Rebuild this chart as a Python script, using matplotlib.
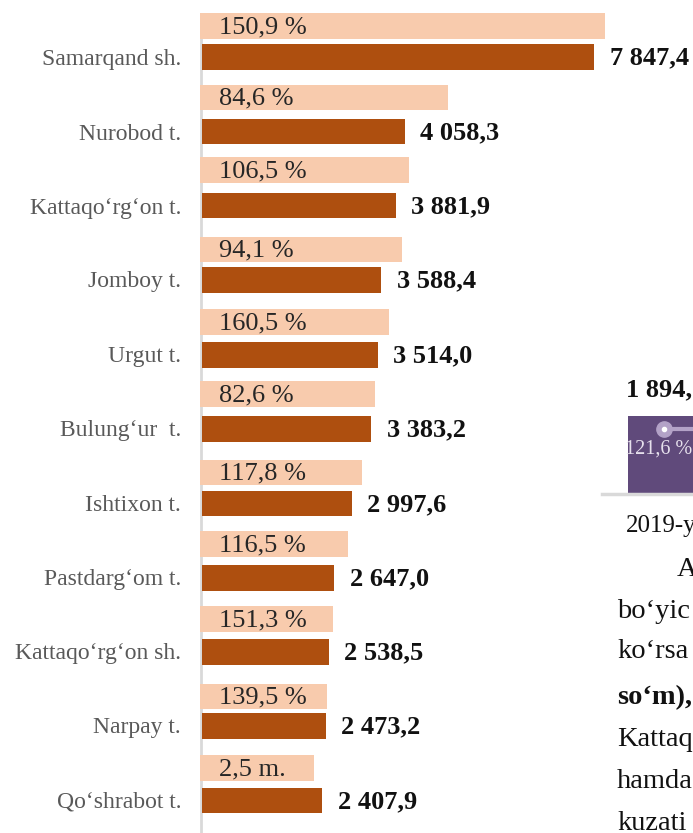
import matplotlib
matplotlib.use("Agg")
import matplotlib.pyplot as plt

plt.rcParams['font.family'] = ['Liberation Serif', 'DejaVu Serif']

W, H = 693, 833
categories = ["Samarqand sh.", "Nurobod t.", "Kattaqo‘rg‘on t.", "Jomboy t.", "Urgut t.",
              "Bulung‘ur  t.", "Ishtixon t.", "Pastdarg‘om t.", "Kattaqo‘rg‘on sh.",
              "Narpay t.", "Qo‘shrabot t."]
values = [7847.4, 4058.3, 3881.9, 3588.4, 3514.0, 3383.2, 2997.6, 2647.0, 2538.5, 2473.2, 2407.9]
value_labels = ["7 847,4", "4 058,3", "3 881,9", "3 588,4", "3 514,0", "3 383,2",
                "2 997,6", "2 647,0", "2 538,5", "2 473,2", "2 407,9"]
growth_bar = [8070, 4925, 4150, 4000, 3745, 3465, 3205, 2925, 2625, 2510, 2250]
growth_labels = ["150,9 %", "84,6 %", "106,5 %", "94,1 %", "160,5 %", "82,6 %",
                 "117,8 %", "116,5 %", "151,3 %", "139,5 %", "2,5 m."]
dark_y = [57, 131.5, 205.5, 280, 355, 429, 503.5, 578, 652, 726, 800.5]
light_y = [26, 97.5, 170, 249.5, 322, 394, 472.5, 544, 619, 696.5, 768]
label_y = [58, 133, 207, 281, 355, 429, 504, 579, 653, 727, 801]
right_category = "2019-y"
right_value = 1894.0
right_label = "1 894,"
right_growth = "121,6 %"
body_lines = [("A", 677, 570, False), ("bo‘yic", 617, 611, False), ("ko‘rsa", 617, 652, False),
              ("so‘m),", 617, 698, True), ("Kattaq", 617, 740, False), ("hamda", 617, 781, False),
              ("kuzati", 617, 823, False)]

px_per_unit = 392 / 7847.4
x0 = 202
fig = plt.figure(figsize=(W / 100, H / 100), dpi=100)
ax = fig.add_axes([0, 0, 1, 1])
ax.set_xlim(-x0 / px_per_unit, (W - x0) / px_per_unit)
ax.set_ylim(H, 0)
ax.axis("off")


def px(x):
    return (x - x0) / px_per_unit


ax.plot([px(201), px(201)], [38, H], color="#d9d9d9", lw=2, solid_capstyle="butt", zorder=1)
left = -2.5 / px_per_unit
ax.barh(light_y, [g - left for g in growth_bar], left=left, height=25.5, color="#f8cbad", zorder=2)
ax.barh(dark_y, values, height=25.5, color="#ae4f0f", zorder=3)

for i, cat in enumerate(categories):
    ax.text(px(181), label_y[i] + 1, cat, ha="right", va="center", fontsize=17, color="#595959")
    ax.text(values[i] + 15.5 / px_per_unit, dark_y[i] + 1, value_labels[i], ha="left", va="center",
            fontsize=19, fontweight="bold", color="#111111")
    ax.text(px(219), light_y[i] + 1, growth_labels[i], ha="left", va="center",
            fontsize=19, color="#262626", zorder=4)

# cropped right-hand chart
ax2 = fig.add_axes([602 / W, 1 - 494 / H, 91 / W, 79 / H])
ax2.set_xlim(0, 91)
ax2.set_ylim(0, right_value * 79 / 78)
ax2.axis("off")
ax2.bar([26 + 35], [right_value], width=70, color="#604a7b")
ax2.plot([0, 91], [0, 0], color="#d9d9d9", lw=2.5, clip_on=False)
ax2.plot([62, 91], [right_value * 0.83] * 2, color="#b3a2c7", lw=3, zorder=3)
ax2.plot([62], [right_value * 0.83], "o", ms=11, color="#b3a2c7", zorder=4)
ax2.plot([62], [right_value * 0.83], "o", ms=3, color="white", zorder=5)

ax.text(px(626), 390, right_label, ha="left", va="center", fontsize=19, fontweight="bold", color="#111111")
fig.text(625 / W, 1 - 449 / H, right_growth, ha="left", va="center", fontsize=14.5, color="#e6e0ec", zorder=10)
ax.text(px(626), 526, right_category, ha="left", va="center", fontsize=18, color="#111111")
for txt, x, y, bold in body_lines:
    ax.text(px(x), y, txt, ha="left", va="center", fontsize=20.5, color="#111111",
            fontweight="bold" if bold else "normal")

fig.savefig("out.png", dpi=100)
